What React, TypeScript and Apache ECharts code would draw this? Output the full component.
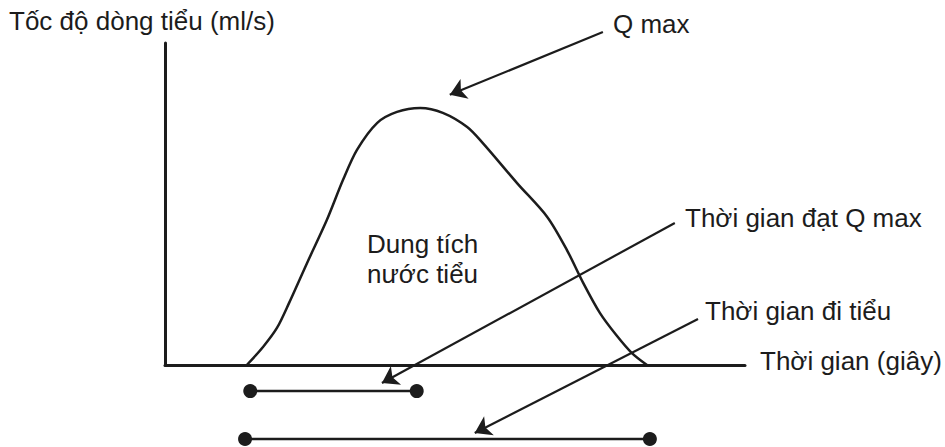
import React, { useEffect, useRef } from "react";
import * as echarts from "echarts";

// Uroflow curve (time in arbitrary units, flow rate in arbitrary units)
const flowTime = [14.1, 16.9, 19.3, 21.4, 24.5, 27.9, 30.7, 33.1, 36.6, 40.0, 44.0, 47.9, 52.1, 54.8, 60.7, 65.9, 69.3, 72.1, 75.0, 77.8, 80.5, 83.1];
const flowRate = [0, 5.6, 11.5, 19.3, 31.7, 45.0, 57.5, 66.8, 75.2, 78.6, 79.8, 78.3, 73.9, 68.9, 56.5, 46.0, 35.7, 25.5, 16.1, 9.3, 3.7, 0];

// Interval bars under the axis: [startTime, endTime, level]
const timeToQmax = [14.7, 43.4, -8.1];
const voidingTime = [13.8, 83.6, -23.0];

// Arrows: [fromX, fromY, toX, toY]
const arrowQmax = [75.5, 103.4, 49.1, 83.9];
const arrowTimeToQmax = [87.9, 44.1, 37.4, -5.6];
const arrowVoidingTime = [91.9, 14.3, 53.4, -21.1];

const yAxisTitle = "Tốc độ dòng tiểu (ml/s)";
const xAxisTitle = "Thời gian (giây)";
const labelQmax = "Q max";
const labelTimeToQmax = "Thời gian đạt Q max";
const labelVoidingTime = "Thời gian đi tiểu";
const labelVolume = "Dung tích\nnước tiểu";

const INK = "#1c1c1c";
const FONT = "'Liberation Sans', Arial, Helvetica, sans-serif";
const FS = 26;

export default function App() {
  const ref = useRef<HTMLDivElement>(null);

  useEffect(() => {
    if (!ref.current) return;
    const chart = echarts.init(ref.current, undefined, { renderer: "svg" });

    const textStyle = (text: string, x: number, y: number, extra: any = {}) => ({
      type: "text",
      x,
      y,
      silent: true,
      style: {
        text,
        fill: INK,
        font: `${FS}px ${FONT}`,
        fontSize: FS,
        fontFamily: FONT,
        verticalAlign: "middle",
        align: "left",
        ...extra,
      },
    });

    const arrowData = [arrowQmax, arrowTimeToQmax, arrowVoidingTime].map((a) => ({
      coords: [
        [a[0], a[1]],
        [a[2], a[3]],
      ],
    }));

    const segment = (s: number[]) => ({
      type: "line",
      clip: false,
      silent: true,
      data: [
        [s[0], s[2]],
        [s[1], s[2]],
      ],
      symbol: "circle",
      symbolSize: 14,
      itemStyle: { color: INK },
      lineStyle: { color: INK, width: 2.5 },
      z: 3,
    });

    chart.setOption({
      animation: false,
      backgroundColor: "#ffffff",
      grid: { left: 165, right: 200, top: 43, bottom: 82, containLabel: false },
      xAxis: {
        type: "value",
        min: 0,
        max: 100,
        axisLine: { show: true, onZero: false, lineStyle: { color: INK, width: 3 } },
        axisTick: { show: false },
        axisLabel: { show: false },
        splitLine: { show: false },
      },
      yAxis: {
        type: "value",
        min: 0,
        max: 100,
        axisLine: { show: true, onZero: false, lineStyle: { color: INK, width: 3 } },
        axisTick: { show: false },
        axisLabel: { show: false },
        splitLine: { show: false },
      },
      series: [
        {
          type: "line",
          data: flowTime.map((t, i) => [t, flowRate[i]]),
          smooth: 0.3,
          symbol: "none",
          clip: false,
          silent: true,
          lineStyle: { color: INK, width: 2.5 },
          z: 2,
        },
        segment(timeToQmax),
        segment(voidingTime),
        {
          type: "lines",
          coordinateSystem: "cartesian2d",
          clip: false,
          silent: true,
          symbol: ["none", "arrow"],
          symbolSize: 16,
          lineStyle: { color: INK, width: 2.2, curveness: 0, opacity: 1 },
          data: arrowData,
          z: 4,
        },
      ],
      graphic: [
        textStyle(yAxisTitle, 9, 21),
        textStyle(xAxisTitle, 760, 361),
        textStyle(labelQmax, 613, 24),
        textStyle(labelTimeToQmax, 685, 218),
        textStyle(labelVoidingTime, 705, 311),
        textStyle(labelVolume, 367, 259, { lineHeight: 30 }),
      ],
    });

    return () => chart.dispose();
  }, []);

  return (
    <div
      ref={ref}
      style={{ position: "absolute", left: 0, top: 0, width: 945, height: 447, background: "#fff" }}
    />
  );
}
